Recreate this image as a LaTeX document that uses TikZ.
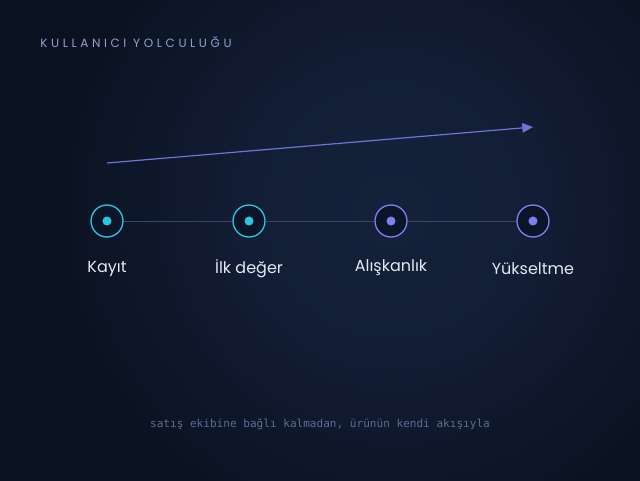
\documentclass[tikz,border=0pt]{standalone}
\usepackage{fontspec}
\setmainfont{Poppins}
\newfontfamily\titlefont[LetterSpace=30]{Poppins}
\newfontfamily\monofont{DejaVu Sans Mono}
\usetikzlibrary{arrows.meta}
\definecolor{bgdark}{HTML}{0A1120}
\definecolor{bgmid}{HTML}{0E1729}
\definecolor{bgglow}{HTML}{111A30}
\definecolor{bgglowin}{HTML}{131E36}
\definecolor{bglight}{HTML}{15213A}
\definecolor{nodefill}{HTML}{0C1427}
\definecolor{cyanc}{HTML}{2CC5DF}
\definecolor{indc}{HTML}{7C80F2}
\definecolor{linec}{HTML}{3A4566}
\definecolor{arrowc}{HTML}{6E75D8}
\definecolor{labelc}{HTML}{E3E8F2}
\definecolor{titlec}{HTML}{8FA1CE}
\definecolor{notec}{HTML}{5D6C92}
\pgfdeclareradialshading{glow}{\pgfpoint{0bp}{0bp}}{%
  color(0bp)=(bglight); color(6.2bp)=(bgglowin); color(7.7bp)=(bgglow); color(10.8bp)=(bgmid); color(15bp)=(bgdark); color(50bp)=(bgdark)}
\tikzset{
  stage/.style={circle, draw=#1, line width=1pt, minimum size=24pt, inner sep=0pt, fill=nodefill},
  dot/.style={circle, fill=#1, minimum size=6.8pt, inner sep=0pt},
  lbl/.style={anchor=base, text=labelc, font=\fontsize{12}{14}\selectfont},
  track/.style={draw=linec, line width=0.7pt},
}
\begin{document}
\begin{tikzpicture}[x=0.75pt,y=-0.75pt]
\useasboundingbox (0,0) rectangle (640,480);
\begin{scope}
\clip (0,0) rectangle (640,480);
\shade[shading=glow] (-208,-390) rectangle (992,810);
\end{scope}
\node[anchor=base west, text=titlec, font=\titlefont\fontsize{9}{11}\selectfont, inner sep=0pt] (title) at (40,47) {KULLANICI YOLCULUĞU};
\coordinate (a1) at (107,163);
\coordinate (a2) at (533,127);
\draw[arrowc, line width=0.9pt, -{Triangle[length=8pt,width=7pt]}] (a1) -- (a2);
\node[stage=cyanc] (s1) at (107,221) {};
\node[stage=cyanc] (s2) at (249,221) {};
\node[stage=indc] (s3) at (391,221) {};
\node[stage=indc] (s4) at (533,221) {};
\draw[track] (s1) -- (s2);
\draw[track] (s2) -- (s3);
\draw[track] (s3) -- (s4);
\node[dot=cyanc] (d1) at (s1) {};
\node[dot=cyanc] (d2) at (s2) {};
\node[dot=indc] (d3) at (s3) {};
\node[dot=indc] (d4) at (s4) {};
\node[lbl] (l1) at (107,272) {Kayıt};
\node[lbl] (l2) at (249,273) {İlk değer};
\node[lbl] (l3) at (391,271) {Alışkanlık};
\node[lbl] (l4) at (533,274) {Yükseltme};
\node[anchor=base, text=notec, font=\monofont\fontsize{8.3}{10}\selectfont] (note) at (320,427) {satış ekibine bağlı kalmadan, ürünün kendi akışıyla};
\end{tikzpicture}
\end{document}
